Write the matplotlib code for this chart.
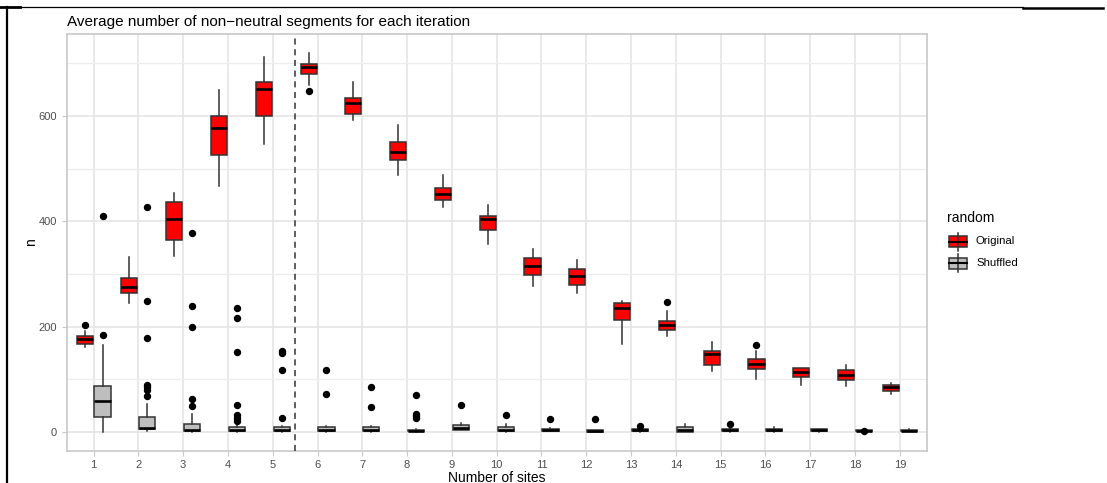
import matplotlib
matplotlib.use("Agg")
import matplotlib.pyplot as plt
from matplotlib.lines import Line2D
from matplotlib.patches import Rectangle

plt.rcParams['font.family'] = ['Liberation Sans', 'DejaVu Sans']

sites = list(range(1, 20))

# Original: whisker low, q1, median, q3, whisker high, outliers
orig_lo = [161, 245, 335, 467, 546, 659, 592, 488, 428, 357, 278, 264, 168, 183, 115, 101, 90, 88, 73]
orig_q1 = [168, 264, 364, 525, 599, 680, 604, 516, 440, 384, 298, 280, 213, 194, 127, 119, 104, 99, 78]
orig_med = [176, 275, 404, 577, 651, 692, 624, 532, 452, 404, 315, 297, 235, 204, 148, 130, 113, 108, 85]
orig_q3 = [182, 293, 436, 600, 664, 698, 635, 550, 463, 411, 331, 309, 245, 211, 154, 138, 121, 118, 90]
orig_hi = [192, 333, 453, 649, 711, 719, 664, 582, 487, 430, 347, 327, 249, 230, 171, 154, 122, 127, 93]
orig_out = [[203], [], [], [], [], [648], [], [], [], [], [], [], [], [246], [], [165], [], [], []]

# Shuffled
shuf_lo = [0, 1, 0, 0, 0, 0, 0, 0, 3, 0, 1, 0, 0, 0, 0, 0, 0, 0, 1]
shuf_q1 = [28, 6, 1, 1, 1, 1, 1, 1, 4, 1, 2, 0, 1, 0, 1, 1, 1, 1, 1]
shuf_med = [58, 8, 4, 3, 3, 4, 4, 2, 8, 3, 4, 1, 3, 3, 4, 4, 3, 2, 2]
shuf_q3 = [88, 28, 16, 10, 9, 9, 9, 4, 14, 9, 6, 3, 5, 9, 6, 6, 5, 4, 4]
shuf_hi = [165, 54, 35, 14, 12, 12, 12, 6, 17, 16, 7, 4, 7, 15, 8, 9, 6, 5, 5]
shuf_out = [[184, 410], [68, 80, 85, 90, 179, 249, 427], [49, 63, 200, 240, 377],
            [21, 27, 32, 51, 152, 217, 235], [27, 118, 150, 153], [72, 118], [48, 85],
            [26, 30, 34, 70], [51], [32], [25], [24], [12], [], [15], [], [], [2], []]

groups = ['Original', 'Shuffled']
fills = ['#FF0000', '#BEBEBE']

W, H = 1107, 483
fig = plt.figure(figsize=(W / 100, H / 100), dpi=100)
ax = fig.add_axes([66.7 / W, 1 - 450.7 / H, 860 / W, 416.4 / H])


def stats(lo, q1, med, q3, hi, out):
    return [dict(whislo=a, q1=b, med=c, q3=d, whishi=e, fliers=f)
            for a, b, c, d, e, f in zip(lo, q1, med, q3, hi, out)]


series = [
    stats(orig_lo, orig_q1, orig_med, orig_q3, orig_hi, orig_out),
    stats(shuf_lo, shuf_q1, shuf_med, shuf_q3, shuf_hi, shuf_out),
]
offsets = [-0.2, 0.2]

for st, off, col in zip(series, offsets, fills):
    ax.bxp(st, positions=[s + off for s in sites], widths=0.36,
           patch_artist=True, showcaps=False, manage_ticks=False,
           boxprops=dict(facecolor=col, edgecolor='#333333', linewidth=1.1),
           medianprops=dict(color='black', linewidth=1.9),
           whiskerprops=dict(color='#333333', linewidth=1.1),
           flierprops=dict(marker='o', markerfacecolor='black', markeredgecolor='black',
                           markersize=4.3, linestyle='none'),
           zorder=3)

ax.axvline(5.5, color='#333333', linestyle=(0, (4, 3)), linewidth=1.1, zorder=4)

ax.set_xlim(0.4, 19.6)
ax.set_ylim(-35.5, 755)
ax.set_xticks(sites)
ax.set_xticklabels([str(s) for s in sites])
ax.set_yticks([0, 200, 400, 600])
ax.set_yticks([100, 300, 500, 700], minor=True)
ax.grid(True, which='major', color='#E3E3E3', linewidth=1.1, zorder=0)
ax.grid(True, which='minor', axis='y', color='#EDEDED', linewidth=0.9, zorder=0)
ax.set_axisbelow(True)
for sp in ax.spines.values():
    sp.set_color('#C8C8C8')
    sp.set_linewidth(1.2)
ax.tick_params(axis='both', which='major', colors='#C8C8C8', length=3.5, width=0.8,
               labelcolor='#4D4D4D', labelsize=8)
ax.tick_params(axis='y', which='minor', length=0)
ax.tick_params(axis='x', pad=3)

ax.set_xlabel('Number of sites', fontsize=10, labelpad=1)
ax.set_ylabel('n', fontsize=10, labelpad=0)
ax.set_title('Average number of non\u2212neutral segments for each iteration',
             fontsize=11, loc='left', pad=6)


def px(x, y):
    return x / W, 1 - y / H


# legend drawn in figure pixels
fig.text(*px(947, 218), 'random', fontsize=10, va='center', ha='left')
for i, (name, col) in enumerate(zip(groups, fills)):
    yc = 241.5 + i * 21.5
    x0, x1 = 949.5, 967
    fig.add_artist(Line2D([px(958.3, 0)[0]] * 2, [px(0, yc - 9)[1], px(0, yc + 9)[1]],
                          color='#333333', linewidth=1.1))
    bx, by = px(x0, yc + 5.5)
    fig.add_artist(Rectangle((bx, by), (x1 - x0) / W, 11 / H, transform=fig.transFigure,
                             facecolor=col, edgecolor='#333333', linewidth=1.1))
    fig.add_artist(Line2D([x0 / W, x1 / W], [px(0, yc)[1]] * 2, color='black', linewidth=1.5))
    fig.text(*px(976, yc), name, fontsize=8.2, va='center', ha='left')

# page frame lines
fig.add_artist(Line2D([7 / W, 7 / W], [0, 1 - 7 / H], color='black', linewidth=1.6))
fig.add_artist(Line2D([0, 20 / W], [1 - 7 / H] * 2, color='black', linewidth=2.0))
fig.add_artist(Line2D([20 / W, 1023 / W], [1 - 7 / H] * 2, color='black', linewidth=0.9))
fig.add_artist(Line2D([1023 / W, 1103 / W], [1 - 7.5 / H] * 2, color='black', linewidth=1.8))

fig.savefig('out.png', dpi=100)
